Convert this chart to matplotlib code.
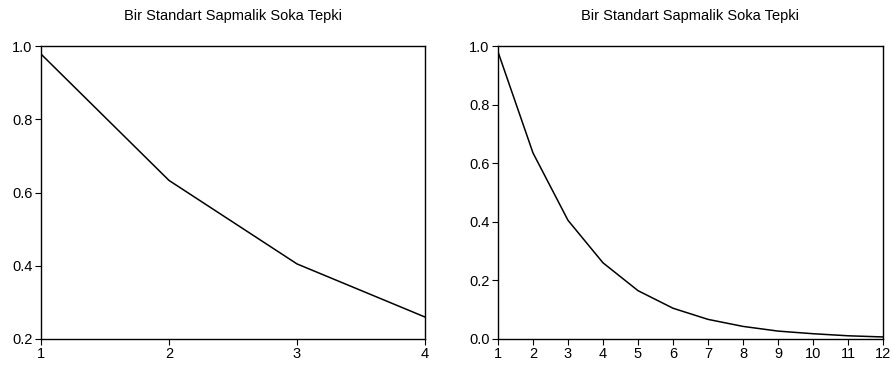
import matplotlib
matplotlib.use("Agg")
import matplotlib.pyplot as plt

plt.rcParams['font.family'] = ['Liberation Sans', 'DejaVu Sans']

title = "Bir Standart Sapmalik Soka Tepki"
x_left = [1, 2, 3, 4]
y_left = [0.978, 0.633, 0.405, 0.26]
x_right = [1, 2, 3, 4, 5, 6, 7, 8, 9, 10, 11, 12]
y_right = [0.98, 0.635, 0.405, 0.26, 0.165, 0.105, 0.067, 0.043, 0.027, 0.018, 0.011, 0.007]
yticks_left = [0.2, 0.4, 0.6, 0.8, 1.0]
yticks_right = [0.0, 0.2, 0.4, 0.6, 0.8, 1.0]

fig = plt.figure(figsize=(8.92, 3.67), dpi=100)
W, H = 892, 367
ax1 = fig.add_axes([41 / W, 1 - 339 / H, (425 - 41) / W, (339 - 46) / H])
ax2 = fig.add_axes([498 / W, 1 - 339 / H, (883 - 498) / W, (339 - 46) / H])

for ax, xs, ys, yt, ylim in [
    (ax1, x_left, y_left, yticks_left, (0.2, 1.0)),
    (ax2, x_right, y_right, yticks_right, (0.0, 1.0)),
]:
    ax.plot(xs, ys, color='black', linewidth=1.1)
    ax.set_xlim(xs[0], xs[-1])
    ax.set_ylim(*ylim)
    ax.set_xticks(xs)
    ax.set_xticklabels([str(v) for v in xs])
    ax.set_yticks(yt)
    ax.set_yticklabels([f"{v:.1f}" for v in yt])
    ax.tick_params(direction='out', length=4, width=0.8, labelsize=10.5, pad=2, colors='black')
    for s in ax.spines.values():
        s.set_linewidth(1.0)
        s.set_color('black')
    ax.set_title(title, fontsize=10.5, pad=19)

fig.savefig("out.png", dpi=100)
